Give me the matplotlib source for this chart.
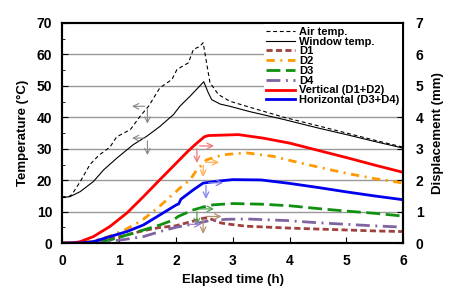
import numpy as np
import matplotlib.pyplot as plt

plt.rcParams['font.family'] = ['Liberation Sans', 'DejaVu Sans']
plt.rcParams['font.weight'] = 'bold'

# temperatures (left axis)
air_t = [0, 0.1, 0.17, 0.32, 0.49, 0.65, 0.84, 0.96, 1.2, 1.37, 1.52, 1.72, 1.93, 2.02,
         2.22, 2.31, 2.42, 2.48, 2.54, 2.6, 2.75, 2.95, 3.3, 3.9, 4.5, 5.0, 5.5, 6.0]
air_T = [14.5, 14.6, 15.4, 19.6, 25.0, 28.0, 30.5, 33.8, 36.1, 40.3, 43.5, 49.4, 52.0, 55.2,
         57.3, 61.6, 62.5, 63.7, 57.3, 51.0, 47.2, 45.1, 43.2, 40.0, 37.3, 35.0, 32.7, 30.5]

win_t = [0, 0.14, 0.32, 0.55, 0.73, 0.96, 1.25, 1.49, 1.72, 1.96, 2.07, 2.25, 2.37, 2.49,
         2.57, 2.63, 2.78, 2.95, 3.3, 3.9, 4.5, 5.0, 5.5, 6.0]
win_T = [14.5, 14.8, 16.4, 19.6, 23.3, 27.0, 31.3, 34.0, 37.1, 40.9, 43.5, 46.7, 49.0, 51.3,
         47.8, 45.6, 44.2, 43.5, 41.8, 39.3, 36.6, 34.5, 32.3, 30.2]

# displacements (right axis, mm)
d1_t = [0, 0.5, 1.0, 1.43, 1.72, 1.99, 2.28, 2.5, 2.6, 2.8, 3.0, 3.24, 4.0, 4.5, 5.0, 5.5, 6.0]
d1 = [0, 0.02, 0.2, 0.4, 0.5, 0.55, 0.69, 0.8, 0.78, 0.64, 0.59, 0.54, 0.48, 0.45, 0.42, 0.39, 0.37]

d2_t = [0, 0.5, 0.8, 1.1, 1.4, 1.7, 2.07, 2.25, 2.37, 2.54, 2.83, 3.24, 3.71, 4.07, 4.5, 5.0, 5.5, 6.0]
d2 = [0, 0.05, 0.2, 0.42, 0.72, 1.15, 1.75, 2.02, 2.33, 2.65, 2.81, 2.87, 2.76, 2.6, 2.42, 2.22, 2.05, 1.91]

d3_t = [0, 0.5, 0.84, 1.14, 1.43, 1.72, 1.96, 2.04, 2.31, 2.48, 2.66, 3.0, 3.5, 4.0, 4.5, 5.0, 5.5, 6.0]
d3 = [0, 0.02, 0.1, 0.26, 0.42, 0.58, 0.74, 0.85, 1.06, 1.15, 1.22, 1.26, 1.24, 1.19, 1.1, 1.02, 0.95, 0.86]

d4_t = [0, 0.8, 1.1, 1.43, 1.72, 2.01, 2.31, 2.6, 2.9, 3.24, 3.95, 4.41, 5.0, 5.5, 6.0]
d4 = [0, 0.05, 0.12, 0.21, 0.37, 0.51, 0.61, 0.72, 0.76, 0.77, 0.72, 0.66, 0.6, 0.55, 0.51]

vert_t = [0, 0.2, 0.32, 0.55, 0.84, 1.14, 1.43, 1.72, 2.01, 2.2, 2.35, 2.5, 2.57, 3.1, 3.53, 4.0, 4.5, 5.0, 5.5, 6.0]
vert = [0, 0.01, 0.05, 0.21, 0.53, 0.96, 1.48, 2.02, 2.55, 2.9, 3.15, 3.38, 3.42, 3.45, 3.34, 3.18, 2.95, 2.72, 2.48, 2.25]

hor_t = [0, 0.35, 0.55, 0.84, 1.14, 1.43, 1.72, 2.01, 2.05, 2.09, 2.31, 2.48, 2.78, 3.0, 3.5, 4.0, 4.5, 5.0, 5.5, 6.0]
hor = [0, 0.01, 0.05, 0.21, 0.37, 0.58, 0.9, 1.22, 1.25, 1.4, 1.7, 1.91, 1.98, 2.02, 2.01, 1.9, 1.77, 1.63, 1.5, 1.38]

# axis-pointer arrows: (x0, y0, x_end, y_end_down, colour)
temp_arrows = [(1.50, 43.5, 1.18, 37.1), (1.50, 33.4, 1.18, 27.1)]
disp_arrows = [(2.37, 3.09, 2.72, 2.46, '#f07878'),
               (2.48, 2.57, 2.81, 2.02, '#ffb050'),
               (2.53, 1.92, 2.88, 1.32, '#8080f0'),
               (2.37, 1.09, 2.72, 0.48, '#50a050'),
               (2.48, 0.85, 2.85, 0.21, '#b09070'),
               (2.15, 0.60, 2.50, -0.02, '#a080d0')]

fig = plt.figure(figsize=(4.74, 3.01), dpi=100)
ax = fig.add_axes([0.131, 0.192, 0.72, 0.732])
ax2 = ax.twinx()

ax.set_xlim(0, 6)
ax.set_ylim(0, 70)
ax2.set_ylim(0, 7)
ax.set_yticks(np.arange(0, 71, 10))
ax.set_yticks(np.arange(5, 70, 10), minor=True)
ax2.set_yticks(np.arange(0, 8, 1))
ax.set_xticks(np.arange(0, 7, 1))

for y in range(10, 70, 10):
    ax.axhline(y, color='#999999', lw=1.0, zorder=0)

l_air, = ax.plot(air_t, air_T, color='black', lw=0.8, dashes=(3.5, 2.5), label='Air temp.')
l_win, = ax.plot(win_t, win_T, color='black', lw=0.8, label='Window temp.')

for x0, y0, x1, y1 in temp_arrows:
    ax.annotate('', xy=(x1, y0), xytext=(x0, y0),
                arrowprops=dict(arrowstyle='->', color='#888888', lw=0.8))
    ax.annotate('', xy=(x0, y1), xytext=(x0, y0),
                arrowprops=dict(arrowstyle='->', color='#888888', lw=0.8))

l_d1, = ax2.plot(d1_t, d1, color='#a0403c', lw=2, dashes=(2.2, 1.2), label='D1')
l_d2, = ax2.plot(d2_t, d2, color='#ff9900', lw=2, dashes=(3, 2, 0.7, 2), label='D2')
l_d3, = ax2.plot(d3_t, d3, color='#109010', lw=2, dashes=(5, 2), label='D3')
l_d4, = ax2.plot(d4_t, d4, color='#8064a2', lw=2, dashes=(5, 2, 0.7, 2), label='D4')
l_v, = ax2.plot(vert_t, vert, color='#ff0000', lw=2, label='Vertical (D1+D2)')
l_h, = ax2.plot(hor_t, hor, color='#0000ee', lw=2, label='Horizontal (D3+D4)')

for x0, y0, x1, y1, c in disp_arrows:
    ax2.annotate('', xy=(x1, y0), xytext=(x0, y0),
                 arrowprops=dict(arrowstyle='->', color=c, lw=0.9))
    ax2.annotate('', xy=(x0, y1), xytext=(x0, y0),
                 arrowprops=dict(arrowstyle='->', color=c, lw=0.9))

for a in (ax, ax2):
    for s in a.spines.values():
        s.set_linewidth(1.5)
ax.tick_params(axis='both', which='both', direction='in', labelsize=10)
ax.tick_params(axis='y', which='major', length=4, pad=7)
ax.tick_params(axis='y', which='minor', length=2.5)
ax.tick_params(axis='x', length=4, pad=8)
ax.tick_params(axis='y', right=False)
ax2.tick_params(axis='y', direction='in', length=4, pad=9, labelsize=10)

ax.set_xlabel('Elapsed time (h)', fontsize=9.5, fontweight='bold', labelpad=4)
ax.set_ylabel('Temperature (°C)', fontsize=9.5, fontweight='bold', labelpad=6)
ax2.set_ylabel('Displacement (mm)', fontsize=9.5, fontweight='bold', labelpad=6)

handles = [l_air, l_win, l_d1, l_d2, l_d3, l_d4, l_v, l_h]
leg = ax2.legend(handles=handles, loc='upper right', bbox_to_anchor=(1.0, 1.0),
                 fontsize=8, handlelength=2.6, handletextpad=0.35, labelspacing=-0.02,
                 borderpad=0.25, borderaxespad=0.1, frameon=True, fancybox=False,
                 facecolor='white', edgecolor='none', framealpha=1)

fig.savefig('out.png', dpi=100)
